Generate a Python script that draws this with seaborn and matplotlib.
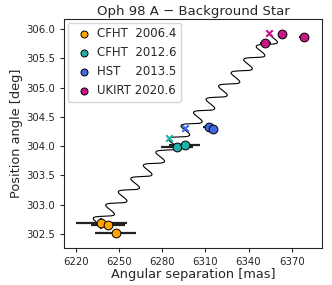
import numpy as np
import pandas as pd
import matplotlib
matplotlib.use("Agg")
import matplotlib.pyplot as plt
import seaborn as sns

# Observed epochs (separation in mas, position angle in deg)
labels = ["CFHT  2006.4", "CFHT  2012.6", "HST    2013.5", "UKIRT 2020.6"]
colors = ["#FFA500", "#20B2AA", "#4169E1", "#C71585"]

sep_2006 = [6237.8, 6242.4, 6247.8]
pa_2006 = [302.68, 302.65, 302.51]
sep_err_2006 = [17.6, 12.0, 14.0]
pa_err_2006 = [0.10, 0.05, 0.07]

sep_2012 = [6290.3, 6295.6]
pa_2012 = [303.98, 304.02]
sep_err_2012 = [11.0, 11.0]
pa_err_2012 = [0.03, 0.03]

sep_2013 = [6312.6, 6315.3]
pa_2013 = [304.32, 304.30]
sep_err_2013 = [4.5, 2.5]
pa_err_2013 = [0.02, 0.02]

sep_2020 = [6351.7, 6363.5, 6378.5]
pa_2020 = [305.77, 305.92, 305.86]
sep_err_2020 = [4.0, 3.0, 3.5]
pa_err_2020 = [0.03, 0.03, 0.03]

# Predicted background-star positions
pred_sep = [6284.6, 6295.7, 6354.2]
pred_pa = [304.13, 304.31, 305.94]
pred_colors = ["#20B2AA", "#4169E1", "#C71585"]

# Background track: reference position, drift and parallax wiggle
track_start, track_end, track_ref = 2006.4, 2020.6, 2012.6
ref_sep, ref_pa = 6289.6, 304.10
drift_sep, drift_pa = 8.7, 0.226
wiggle_sep, wiggle_pa = 5.0, 0.032

epochs = np.linspace(track_start, track_end, 1500)
phase = 2 * np.pi * (epochs - track_ref)
track = pd.DataFrame({
    "sep": ref_sep + drift_sep * (epochs - track_ref) - wiggle_sep * np.cos(phase),
    "pa": ref_pa + drift_pa * (epochs - track_ref) + wiggle_pa * np.cos(phase),
})

groups = [
    (sep_2006, pa_2006, sep_err_2006, pa_err_2006),
    (sep_2012, pa_2012, sep_err_2012, pa_err_2012),
    (sep_2013, pa_2013, sep_err_2013, pa_err_2013),
    (sep_2020, pa_2020, sep_err_2020, pa_err_2020),
]

sns.set_style("ticks")
fig = plt.figure(figsize=(3.32, 2.85), dpi=100)
ax = fig.add_axes([0.193, 0.130, 0.777, 0.803])

sns.lineplot(data=track, x="sep", y="pa", sort=False, color="black",
             linewidth=0.8, ax=ax, zorder=2)

for (sx, sy, ex, ey), lab, col in zip(groups, labels, colors):
    ax.errorbar(sx, sy, xerr=ex, yerr=ey, fmt="none", ecolor="#222222",
                elinewidth=1.6, capsize=0, zorder=3)
    sns.scatterplot(x=sx, y=sy, color=col, edgecolor="black", linewidth=0.7,
                    s=40, label=lab, ax=ax, zorder=4)

for px, py, col in zip(pred_sep, pred_pa, pred_colors):
    ax.scatter(px, py, marker="x", color=col, s=22, linewidths=1.5, zorder=5)

ax.set_xlim(6212, 6391)
ax.set_ylim(302.26, 306.17)
ax.set_xticks([6220, 6250, 6280, 6310, 6340, 6370])
ax.set_yticks([302.5, 303.0, 303.5, 304.0, 304.5, 305.0, 305.5, 306.0])
ax.tick_params(labelsize=7.3, length=3)
ax.set_xlabel("Angular separation [mas]", fontsize=9.3, labelpad=1)
ax.set_ylabel("Position angle [deg]", fontsize=9.3, labelpad=2)
ax.set_title("Oph 98 A \u2212 Background Star", fontsize=9.5, pad=3)

leg = ax.legend(loc="upper left", fontsize=8.5, markerscale=0.8,
                handletextpad=0.1, borderaxespad=0.3, frameon=True)

fig.savefig("out.png", dpi=100)
